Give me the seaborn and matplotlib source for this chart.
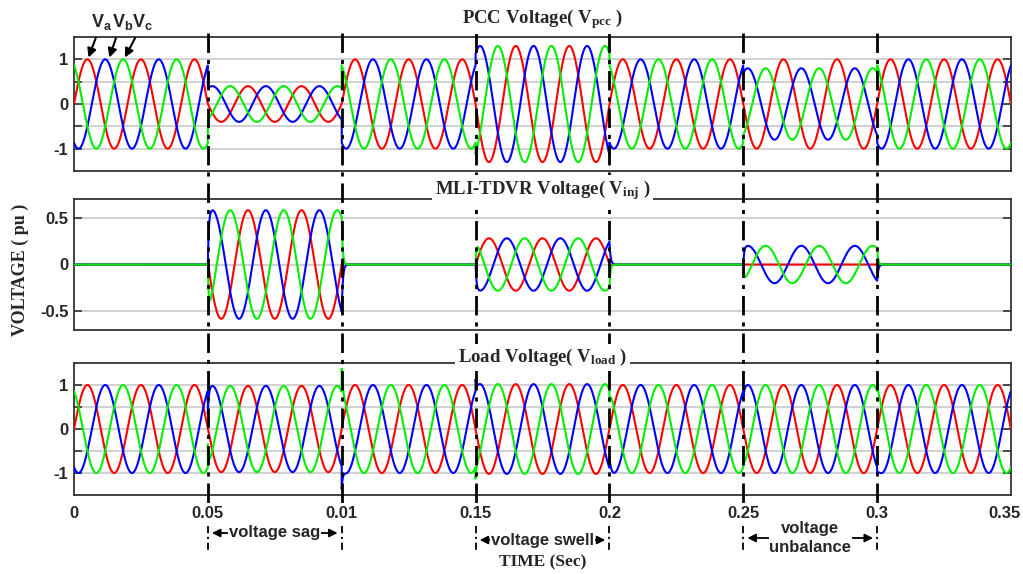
import numpy as np
import matplotlib
matplotlib.use("Agg")
import matplotlib.pyplot as plt
import matplotlib.transforms as mtransforms
from matplotlib.lines import Line2D
from matplotlib.patches import FancyArrowPatch
from matplotlib.ticker import FixedLocator
import seaborn as sns

# ---------------- data ----------------
freq_hz = 50.0
t_stop = 0.35
phase_deg = [0.0, -120.0, 120.0]          # Va, Vb, Vc
phase_colors = ["#ff0000", "#0000ff", "#00ee00"]

event_start = [0.05, 0.15, 0.25]
event_end = [0.10, 0.20, 0.30]
event_names = ["voltage sag", "voltage swell", "voltage\nunbalance"]

# PCC amplitude (pu) during each event, per phase
pcc_amp_a = [0.40, 1.30, 1.00]
pcc_amp_b = [0.40, 1.30, 0.80]
pcc_amp_c = [0.40, 1.30, 0.80]
# injected (MLI-TDVR) amplitude during each event, per phase
inj_amp_a = [0.58, -0.28, 0.00]
inj_amp_b = [0.58, -0.28, 0.20]
inj_amp_c = [0.58, -0.28, 0.20]
inj_rise_tau = 0.0003
inj_decay_tau = 0.0004

xtick_vals = [0, 0.05, 0.10, 0.15, 0.20, 0.25, 0.30, 0.35]
xtick_labels = ["0", "0.05", "0.01", "0.15", "0.2", "0.25", "0.3", "0.35"]
panel_titles = [r"PCC Voltage( $\mathbf{V_{pcc}}$ )",
                r"MLI-TDVR Voltage( $\mathbf{V_{inj}}$ )",
                r"Load Voltage( $\mathbf{V_{load}}$ )"]
phase_labels = [r"$\mathsf{V_a}$", r"$\mathsf{V_b}$", r"$\mathsf{V_c}$"]

# ---------------- waveforms ----------------
t = np.arange(0.0, t_stop + 1e-9, 2e-5)
w = 2 * np.pi * freq_hz
pcc_amps = [pcc_amp_a, pcc_amp_b, pcc_amp_c]
inj_amps = [inj_amp_a, inj_amp_b, inj_amp_c]

pcc, inj, load = [], [], []
for k in range(3):
    s = np.sin(w * t + np.deg2rad(phase_deg[k]))
    env = np.ones_like(t)
    gate = np.zeros_like(t)
    for i in range(3):
        a, b = event_start[i], event_end[i]
        inside = (t >= a) & (t < b)
        env[inside] = pcc_amps[k][i]
        g = np.where(inside, (1 - np.exp(-(t - a) / inj_rise_tau)), 0.0)
        after = t >= b
        g_end = 1 - np.exp(-(b - a) / inj_rise_tau)
        g = g + np.where(after, g_end * np.exp(-(t - b) / inj_decay_tau), 0.0)
        gate += g * inj_amps[k][i]
    p = env * s
    v = gate * s
    pcc.append(p)
    inj.append(v)
    load.append(p + v)

# ---------------- figure ----------------
sns.set_style("white")
plt.rcParams["font.family"] = ["Liberation Sans", "DejaVu Sans"]
plt.rcParams["mathtext.fontset"] = "custom"
plt.rcParams["mathtext.rm"] = "Liberation Serif:bold"
plt.rcParams["mathtext.bf"] = "Liberation Serif:bold"
plt.rcParams["mathtext.sf"] = "Liberation Sans:bold"

W, H = 1023, 574
fig = plt.figure(figsize=(W / 100, H / 100), dpi=100)
L = 74 / W
AW = (1011 - 74) / W
XC = L + AW / 2
boxes = [(37, 171), (199, 330), (363, 495)]
axes = [fig.add_axes([L, 1 - b / H, AW, (b - tp) / H]) for tp, b in boxes]

datasets = [pcc, inj, load]
ylims = [(-1.5, 1.5), (-0.7, 0.7), (-1.5, 1.5)]
yt = [[-1, -0.5, 0, 0.5, 1], [-0.5, 0, 0.5], [-1, -0.5, 0, 0.5, 1]]
ytl = [["-1", "", "0", "", "1"], ["-0.5", "0", "0.5"], ["-1", "", "0", "", "1"]]

for j, ax in enumerate(axes):
    ax.set_facecolor("white")
    for k in range(3):
        sns.lineplot(x=t, y=datasets[j][k], ax=ax, color=phase_colors[k], lw=1.5,
                     estimator=None, errorbar=None, sort=False, legend=False, zorder=3)
    ax.set_xlim(0, t_stop)
    ax.set_ylim(*ylims[j])
    ax.yaxis.set_major_locator(FixedLocator(yt[j]))
    ax.set_yticklabels(ytl[j], fontsize=12, fontweight="bold")
    ax.set_xticks(xtick_vals)
    ax.grid(axis="y", color="#c8c8c8", lw=1.2, zorder=1)
    ax.grid(axis="x", visible=False)
    ax.tick_params(axis="y", direction="in", length=6, width=1.2, left=True, right=True,
                   pad=4, color="#333333")
    ax.tick_params(axis="x", length=0)
    ax.set_xlabel("")
    ax.set_ylabel("")
    for sp in ax.spines.values():
        sp.set_color("#333333")
        sp.set_linewidth(1.3)
    if j < 2:
        ax.set_xticklabels([])
    else:
        ax.set_xticklabels(xtick_labels, fontsize=12, fontweight="bold")
        ax.tick_params(axis="x", pad=8)
        ax.get_xticklabels()[-1].set_horizontalalignment("right")
        ax.get_xticklabels()[-1].set_x(0.35)

# shift last label so that it stays on the canvas
lbl = axes[2].get_xticklabels()[-1]
lbl.set_transform(lbl.get_transform() + mtransforms.ScaledTranslation(10 / 100, 0, fig.dpi_scale_trans))

# panel titles
title_y = [19, 190, 357]
for j, ax in enumerate(axes):
    fig.text(XC, 1 - title_y[j] / H, panel_titles[j], ha="center", va="center",
             family="Liberation Serif", fontweight="bold", fontsize=13.5, zorder=10,
             bbox=dict(facecolor="white", edgecolor="none", pad=2))

# axis labels
fig.text(20 / W, 1 - 270 / H, "VOLTAGE ( pu )", rotation=90, ha="center", va="center",
         family="Liberation Serif", fontweight="bold", fontsize=13)
fig.text(XC, 1 - 562 / H, "TIME (Sec)", ha="center", va="center",
         family="Liberation Serif", fontweight="bold", fontsize=12.5)

# phase labels with arrows
ax1 = axes[0]
lab_x = [0.0105, 0.0180, 0.0255]
tip_x = [0.0054, 0.0132, 0.0190]
for k in range(3):
    ax1.annotate(phase_labels[k], xy=(tip_x[k], 1.04), xytext=(lab_x[k], 1.83), textcoords="data",
                 ha="center", va="center", fontsize=13,
                 arrowprops=dict(arrowstyle="-|>", color="k", lw=1.5, mutation_scale=13,
                                 shrinkA=2, shrinkB=0, relpos=(0.3, 0.0)))

# event boundary lines
bt = mtransforms.blended_transform_factory(axes[2].transData, fig.transFigure)
for x in sorted(event_start + event_end):
    fig.add_artist(Line2D([x, x], [1 - 33 / H, 1 - 506 / H], transform=bt, color="k", lw=2,
                          linestyle=(0, (7, 2.5, 1.5, 2.5)), zorder=5))
    fig.add_artist(Line2D([x, x], [1 - 526 / H, 1 - 552 / H], transform=bt, color="k", lw=1.3,
                          linestyle=(0, (4, 2, 1.2, 2)), zorder=5))

# event annotations
ann_y = [533, 540, 538]
for i in range(3):
    y = 1 - ann_y[i] / H
    fig.add_artist(FancyArrowPatch(
        (event_start[i] + 0.0005, y), (event_end[i] - 0.0005, y), transform=bt,
        arrowstyle="<|-|>", mutation_scale=12, color="k", lw=1.3, zorder=6))
    xm = L + AW * (event_start[i] + event_end[i]) / 2 / t_stop
    fig.text(xm, y, event_names[i], ha="center", va="center", fontsize=12, fontweight="bold",
             linespacing=1.25, zorder=7,
             bbox=dict(facecolor="white", edgecolor="none", pad=0.5))

fig.savefig("out.png", dpi=100, facecolor="white")
